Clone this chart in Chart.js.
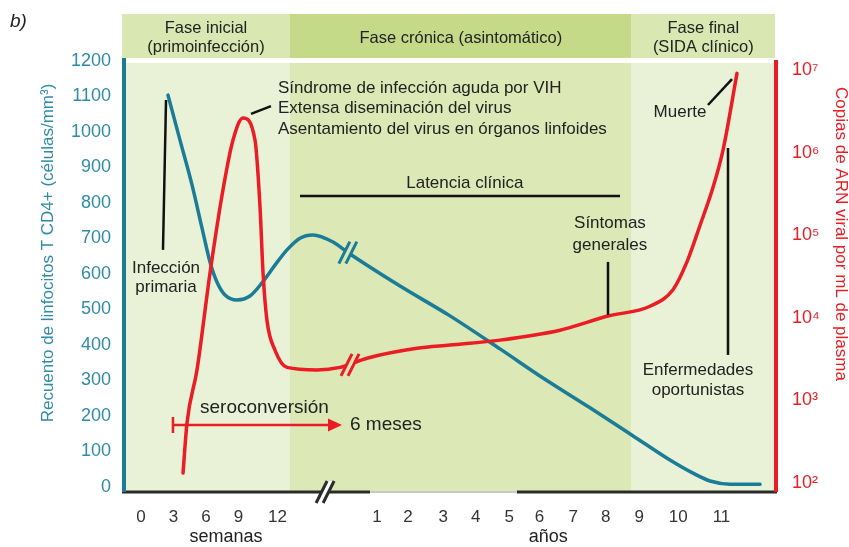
<!DOCTYPE html>
<html lang="es">
<head>
<meta charset="utf-8">
<title>Evolución de la infección por VIH</title>
<script src="https://cdn.jsdelivr.net/npm/chart.js@4.4.1/dist/chart.umd.min.js"></script>
<style>
  html, body { margin: 0; padding: 0; background: #fff; }
  #wrap { width: 849px; height: 547px; }
</style>
</head>
<body>
<div id="wrap"><canvas id="chart" width="849" height="547"></canvas></div>
<script>
// Eje X: posición en la línea de tiempo (semanas antes del corte, años después)
const xMin = -1.57;
const xMax = 58.54;
const tickPos = [0, 3, 6, 9, 12.6, 21.8, 24.65, 27.9, 30.9, 34.0, 36.8, 39.9, 42.9, 46.0, 49.6, 53.6];
const tickLabels = ['0', '3', '6', '9', '12', '1', '2', '3', '4', '5', '6', '7', '8', '9', '10', '11'];

// Linfocitos T CD4+ (células/mm3)
const cd4X = [2.49, 3.60, 4.71, 5.63, 6.37, 7.02, 7.76, 8.86, 10.06, 11.17, 12.37, 13.48, 14.68, 15.88, 17.73, 19.02,
              23.92, 28.53, 33.15, 37.12, 41.46, 45.34, 48.84, 50.97, 52.54, 54.39, 57.16];
const cd4Y = [1104, 977, 851, 730, 634, 577, 541, 527, 538, 575, 625, 668, 701, 710, 690, 662,
              566, 482, 389, 307, 223, 146, 76, 39, 17, 8, 8];

// Copias de ARN viral por mL de plasma
const arnX = [3.88, 4.25, 5.17, 6.37, 7.57, 8.49, 9.42, 10.53, 10.99, 11.27, 11.63, 12.37, 13.48, 16.25, 18.37,
              20.87, 25.48, 28.53, 33.15, 38.69, 43.12, 47.0, 49.12, 50.42, 51.62, 52.82, 53.74, 55.03];
const arnY = [132, 537, 2344, 34700, 355000, 1410000, 2630000, 1410000, 219000, 34700, 9330, 4070, 2510, 2340, 2510,
              3240, 4270, 4680, 5370, 7080, 10500, 13800, 21900, 47900, 132000, 380000, 1070000, 9100000];

const viralTicks = [1e2, 1e3, 1e4, 1e5, 1e6, 1e7];
const sup = {2: '²', 3: '³', 4: '⁴', 5: '⁵', 6: '⁶', 7: '⁷'};

// Fases
const phaseEdges = [xMin, 13.76, 45.3, xMax];
const phaseNames = [['Fase inicial', '(primoinfección)'], ['Fase crónica (asintomático)'], ['Fase final', '(SIDA clínico)']];

const TEAL = '#1b7c98';
const TEAL_TXT = '#2f8ca8';
const RED = '#ec1c24';
const INK = '#222222';
const FONT = '"Liberation Sans", Arial, "DejaVu Sans", sans-serif';

// Textos y trazos de anotación (posición en unidades del eje X y del eje izquierdo)
const notes = [
    {t: 'Infección', u: 2.31, v: 617, a: 'center', s: 17},
    {t: 'primaria', u: 2.31, v: 563, a: 'center', s: 17},
    {t: 'Síndrome de infección aguda por VIH', u: 12.65, v: 1124, a: 'left', s: 17},
    {t: 'Extensa diseminación del virus', u: 12.65, v: 1068, a: 'left', s: 17},
    {t: 'Asentamiento del virus en órganos linfoides', u: 12.65, v: 1008, a: 'left', s: 17},
    {t: 'Latencia clínica', u: 29.9, v: 856, a: 'center', s: 17},
    {t: 'Síntomas', u: 43.3, v: 744, a: 'center', s: 17},
    {t: 'generales', u: 43.3, v: 682, a: 'center', s: 17},
    {t: 'Muerte', u: 49.77, v: 1056, a: 'center', s: 17},
    {t: 'Enfermedades', u: 51.43, v: 330, a: 'center', s: 17},
    {t: 'oportunistas', u: 51.43, v: 273, a: 'center', s: 17},
    {t: 'seroconversión', u: 5.45, v: 223, a: 'left', s: 19},
    {t: '6 meses', u: 19.3, v: 175, a: 'left', s: 19}
];
const leaders = [
    [2.31, 1090, 2.03, 668],
    [10.16, 1051, 12.0, 1073],
    [14.68, 820, 44.23, 820],
    [43.12, 634, 43.12, 485],
    [52.35, 1076, 54.57, 1149],
    [54.2, 955, 54.2, 372]
];

const decorPlugin = {
    id: 'decor',
    beforeDraw(chart) {
        const {ctx, chartArea} = chart;
        const xs = chart.scales.x;
        const X = v => xs.getPixelForValue(v);
        ctx.save();
        // cabecera de fases y fondo del gráfico
        const headBg = ['#d9e7b2', '#c4da88', '#d9e7b2'];
        const plotBg = ['#e9f1d6', '#dce8b6', '#e9f1d6'];
        for (let i = 0; i < 3; i++) {
            const x0 = i === 0 ? X(phaseEdges[i]) - 2 : X(phaseEdges[i]);
            const x1 = X(phaseEdges[i + 1]);
            ctx.fillStyle = headBg[i];
            ctx.fillRect(x0, 14, x1 - x0, 44);
            ctx.fillStyle = plotBg[i];
            ctx.fillRect(x0, chartArea.top + 2, x1 - x0, chartArea.bottom + 4 - chartArea.top - 2);
            ctx.fillStyle = INK;
            ctx.font = '16.5px ' + FONT;
            ctx.textAlign = 'center';
            ctx.textBaseline = 'middle';
            const cx = (x0 + x1) / 2;
            const lines = phaseNames[i];
            if (lines.length === 1) {
                ctx.fillText(lines[0], cx, 38);
            } else {
                ctx.fillText(lines[0], cx, 28);
                ctx.fillText(lines[1], cx, 47);
            }
        }
        ctx.restore();
    },
    afterDatasetsDraw(chart) {
        const {ctx, chartArea} = chart;
        const xs = chart.scales.x, yl = chart.scales.y, yr = chart.scales.y2;
        const X = v => xs.getPixelForValue(v);
        const Y = v => yl.getPixelForValue(v);
        ctx.save();

        // ejes
        const axY = chartArea.bottom + 5;
        ctx.lineCap = 'butt';
        ctx.strokeStyle = '#2b2b2b';
        ctx.lineWidth = 3;
        ctx.beginPath();
        ctx.moveTo(chartArea.left - 2, axY);
        ctx.lineTo(X(21.15), axY);
        ctx.moveTo(X(34.7), axY);
        ctx.lineTo(chartArea.right + 2, axY);
        ctx.stroke();
        ctx.strokeStyle = '#c9c9c9';
        ctx.lineWidth = 2;
        ctx.beginPath();
        ctx.moveTo(X(21.15), axY);
        ctx.lineTo(X(34.7), axY);
        ctx.stroke();
        ctx.strokeStyle = TEAL;
        ctx.lineWidth = 4;
        ctx.beginPath();
        ctx.moveTo(chartArea.left, chartArea.top - 3);
        ctx.lineTo(chartArea.left, axY);
        ctx.stroke();
        ctx.strokeStyle = RED;
        ctx.beginPath();
        ctx.moveTo(chartArea.right + 1, chartArea.top - 1);
        ctx.lineTo(chartArea.right + 1, axY);
        ctx.stroke();

        // cortes //
        function brk(cx, cy, color, bg) {
            ctx.strokeStyle = color;
            ctx.lineWidth = 3;
            if (bg) {
                ctx.fillStyle = bg;
                ctx.beginPath();
                ctx.moveTo(cx - 8, cy + 11); ctx.lineTo(cx + 2, cy - 11);
                ctx.lineTo(cx + 8, cy - 11); ctx.lineTo(cx - 2, cy + 11);
                ctx.closePath();
                ctx.fill();
            }
            [-3.5, 3.5].forEach(d => {
                ctx.beginPath();
                ctx.moveTo(cx + d - 5.5, cy + 11);
                ctx.lineTo(cx + d + 5.5, cy - 11);
                ctx.stroke();
            });
        }
        brk(X(19.1), Y(660), TEAL, '#dce8b6');
        brk(X(19.3), yr.getPixelForValue(2690), RED, '#dce8b6');
        brk(X(17.0), axY, '#2b2b2b', '#ffffff');

        // líneas de anotación
        ctx.strokeStyle = '#111';
        ctx.lineWidth = 2.5;
        leaders.forEach(l => {
            ctx.beginPath();
            ctx.moveTo(X(l[0]), Y(l[1]));
            ctx.lineTo(X(l[2]), Y(l[3]));
            ctx.stroke();
        });

        // flecha de seroconversión
        const ay = Y(175);
        const ax0 = X(2.95), ax1 = X(18.56);
        ctx.strokeStyle = RED;
        ctx.fillStyle = RED;
        ctx.lineWidth = 2.5;
        ctx.beginPath();
        ctx.moveTo(ax0, ay); ctx.lineTo(ax1 - 10, ay);
        ctx.moveTo(ax0, ay - 8); ctx.lineTo(ax0, ay + 8);
        ctx.stroke();
        ctx.beginPath();
        ctx.moveTo(ax1, ay); ctx.lineTo(ax1 - 14, ay - 6.5); ctx.lineTo(ax1 - 14, ay + 6.5);
        ctx.closePath();
        ctx.fill();

        // textos
        ctx.fillStyle = INK;
        ctx.textBaseline = 'middle';
        notes.forEach(n => {
            ctx.font = n.s + 'px ' + FONT;
            ctx.textAlign = n.a;
            ctx.fillText(n.t, X(n.u), Y(n.v));
        });
        ctx.font = '18px ' + FONT;
        ctx.textAlign = 'center';
        ctx.fillText('semanas', X(7.85), 537);
        ctx.fillText('años', X(37.6), 537);

        ctx.font = 'italic 19px ' + FONT;
        ctx.textAlign = 'left';
        ctx.fillText('b)', 10, 22);

        // títulos de los ejes verticales
        ctx.font = '17px ' + FONT;
        ctx.fillStyle = TEAL_TXT;
        ctx.textAlign = 'center';
        ctx.save();
        ctx.translate(48, 253);
        ctx.rotate(-Math.PI / 2);
        ctx.fillText('Recuento de linfocitos T CD4+ (células/mm³)', 0, 0);
        ctx.restore();
        ctx.fillStyle = RED;
        ctx.save();
        ctx.translate(841, 234);
        ctx.rotate(Math.PI / 2);
        ctx.fillText('Copias de ARN viral por mL de plasma', 0, 0);
        ctx.restore();

        ctx.restore();
    }
};

Chart.defaults.font.family = FONT;

new Chart(document.getElementById('chart'), {
    type: 'line',
    data: {
        datasets: [
            {
                label: 'ARN viral',
                data: arnX.map((x, i) => ({x: x, y: arnY[i]})),
                yAxisID: 'y2',
                borderColor: RED,
                borderWidth: 3.5,
                pointRadius: 0,
                cubicInterpolationMode: 'monotone',
                borderCapStyle: 'round'
            },
            {
                label: 'Linfocitos T CD4+',
                data: cd4X.map((x, i) => ({x: x, y: cd4Y[i]})),
                yAxisID: 'y',
                borderColor: TEAL,
                borderWidth: 3.5,
                pointRadius: 0,
                cubicInterpolationMode: 'monotone',
                borderCapStyle: 'round'
            }
        ]
    },
    options: {
        responsive: false,
        animation: false,
        devicePixelRatio: 1,
        layout: { padding: { top: 61, left: 0, right: 0, bottom: 0 } },
        plugins: {
            legend: { display: false },
            tooltip: { enabled: false }
        },
        scales: {
            x: {
                type: 'linear',
                min: xMin,
                max: xMax,
                grid: { display: false, drawTicks: false },
                border: { display: false },
                afterFit: s => { s.height = 60; },
                afterBuildTicks: s => { s.ticks = tickPos.map(v => ({value: v})); },
                ticks: {
                    autoSkip: false,
                    maxRotation: 0,
                    minRotation: 0,
                    padding: 20,
                    color: '#333',
                    font: { size: 17 },
                    callback: (v, i) => tickLabels[i]
                }
            },
            y: {
                position: 'left',
                min: 0,
                max: 1200,
                grid: { display: false, drawTicks: false },
                border: { display: false },
                afterFit: s => { s.width = 124; },
                ticks: {
                    stepSize: 100,
                    padding: 13,
                    color: TEAL_TXT,
                    font: { size: 18 },
                    callback: v => String(v)
                }
            },
            y2: {
                type: 'logarithmic',
                position: 'right',
                min: 89.5,
                max: 12850000,
                grid: { display: false, drawTicks: false },
                border: { display: false },
                afterFit: s => { s.width = 74; },
                afterBuildTicks: s => { s.ticks = viralTicks.map(v => ({value: v})); },
                ticks: {
                    padding: 17,
                    color: RED,
                    font: { size: 18 },
                    callback: v => '10' + sup[Math.round(Math.log10(v))]
                }
            }
        }
    },
    plugins: [decorPlugin]
});
</script>
</body>
</html>
